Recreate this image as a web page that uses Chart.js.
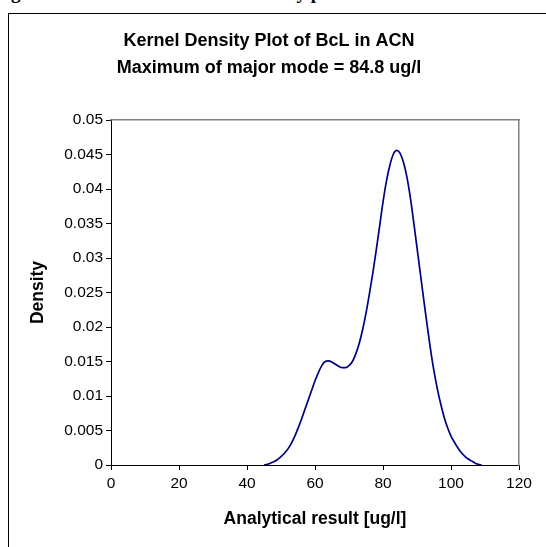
<!DOCTYPE html>
<html>
<head>
<meta charset="utf-8">
<script src="https://cdn.jsdelivr.net/npm/chart.js@4"></script>
<style>
  html, body { margin: 0; padding: 0; background: #fff; }
  #wrap { position: relative; width: 546px; height: 547px; overflow: hidden; }
  #frame { position: absolute; left: 8px; top: 13px; width: 600px; height: 600px; border: 1px solid #000; }
  .cap { position: absolute; top: -17px; font: bold 19px "Liberation Serif", serif; line-height: 19px; white-space: nowrap; }
  #chart { position: absolute; left: 0; top: 0; }
</style>
</head>
<body>
<div id="wrap">
  <div class="cap" style="left:-6px">Figure</div>
  <div class="cap" style="left:248px">density plot</div>
  <div id="frame"></div>
  <canvas id="chart" width="546" height="547"></canvas>
</div>
<script>
const titleLines = ['Kernel Density Plot of BcL in ACN', 'Maximum of major mode = 84.8 ug/l'];
const xTitle = 'Analytical result [ug/l]';
const yTitle = 'Density';

// analytical result (ug/l) and estimated density
const results = [45, 46, 47, 48, 49, 50, 51, 52, 53, 54, 55, 56, 57, 58, 59, 60,
  61, 62, 63, 64, 65, 66, 67, 68, 69, 70, 71, 72, 73, 74, 75, 76, 77, 78, 79, 80,
  81, 82, 83, 84, 85, 86, 87, 88, 89, 90, 91, 92, 93, 94, 95, 96, 97, 98, 99, 100,
  101, 102, 103, 104, 105, 106, 107, 108, 109];
const density = [0, 0.0001, 0.0003, 0.0005, 0.0008, 0.0012, 0.0017, 0.0023, 0.0031, 0.0041,
  0.0053, 0.0066, 0.0080, 0.0094, 0.0108, 0.0122, 0.0134, 0.0144, 0.0150, 0.0151,
  0.0149, 0.0146, 0.0143, 0.0141, 0.0141, 0.0144, 0.0150, 0.0161, 0.0176, 0.0196,
  0.0220, 0.0248, 0.0278, 0.0311, 0.0346, 0.0381, 0.0411, 0.0434, 0.0450, 0.0456,
  0.0452, 0.0439, 0.0418, 0.0389, 0.0353, 0.0315, 0.0277, 0.0239, 0.0202, 0.0167,
  0.0136, 0.0110, 0.0088, 0.0069, 0.0054, 0.0042, 0.0033, 0.0025, 0.0018, 0.0013,
  0.0009, 0.0006, 0.0003, 0.0001, 0];

const xTicks = [0, 20, 40, 60, 80, 100, 120];
const yTicks = [0, 0.005, 0.01, 0.015, 0.02, 0.025, 0.03, 0.035, 0.04, 0.045, 0.05];

const points = results.map((x, i) => ({ x: x, y: density[i] }));
const font = '"Liberation Sans", Arial, sans-serif';

new Chart(document.getElementById('chart'), {
  type: 'scatter',
  data: {
    datasets: [{
      data: points,
      showLine: true,
      borderColor: '#000080',
      borderWidth: 1.7,
      pointRadius: 0,
      cubicInterpolationMode: 'monotone'
    }]
  },
  options: {
    responsive: false,
    animation: false,
    layout: { padding: { left: 19, right: 27, top: 10, bottom: 0 } },
    plugins: {
      legend: { display: false },
      tooltip: { enabled: false },
      title: {
        display: true,
        text: titleLines,
        color: '#000',
        font: { family: font, size: 18, weight: 'bold', lineHeight: 1.5 },
        padding: { top: 18, bottom: 38 }
      }
    },
    scales: {
      x: {
        type: 'linear',
        position: 'bottom',
        min: 0, max: 120,
        afterBuildTicks: s => { s.ticks = xTicks.map(v => ({ value: v })); },
        afterFit: s => { s.height = 82; },
        ticks: { color: '#000', font: { family: font, size: 15.5 }, padding: 4, maxRotation: 0 },
        grid: { drawOnChartArea: false, drawTicks: true, tickLength: 5, color: '#000' },
        border: { color: '#000', width: 1 },
        title: {
          display: true, text: xTitle, color: '#000',
          font: { family: font, size: 17.5, weight: 'bold' },
          padding: { top: 4, bottom: 17 }
        }
      },
      y: {
        type: 'linear',
        position: 'left',
        min: 0, max: 0.05,
        afterBuildTicks: s => { s.ticks = yTicks.map(v => ({ value: v })); },
        afterFit: s => { s.width = 92; },
        ticks: {
          color: '#000', font: { family: font, size: 15.5 }, padding: 3,
          callback: v => String(Number(v.toFixed(3)))
        },
        grid: { drawOnChartArea: false, drawTicks: true, tickLength: 5, color: '#000' },
        border: { color: '#000', width: 1 },
        title: {
          display: true, text: yTitle, color: '#000',
          font: { family: font, size: 17.5, weight: 'bold' },
          padding: { top: 9, bottom: 0 }
        }
      },
      xTop: {
        type: 'linear', position: 'top', min: 0, max: 120,
        afterFit: s => { s.height = 0; },
        ticks: { display: false },
        grid: { display: false },
        border: { color: '#808080', width: 1.5 }
      },
      yRight: {
        type: 'linear', position: 'right', min: 0, max: 0.05,
        afterFit: s => { s.width = 0; },
        ticks: { display: false },
        grid: { display: false },
        border: { color: '#808080', width: 1.5 }
      }
    }
  }
});
</script>
</body>
</html>
